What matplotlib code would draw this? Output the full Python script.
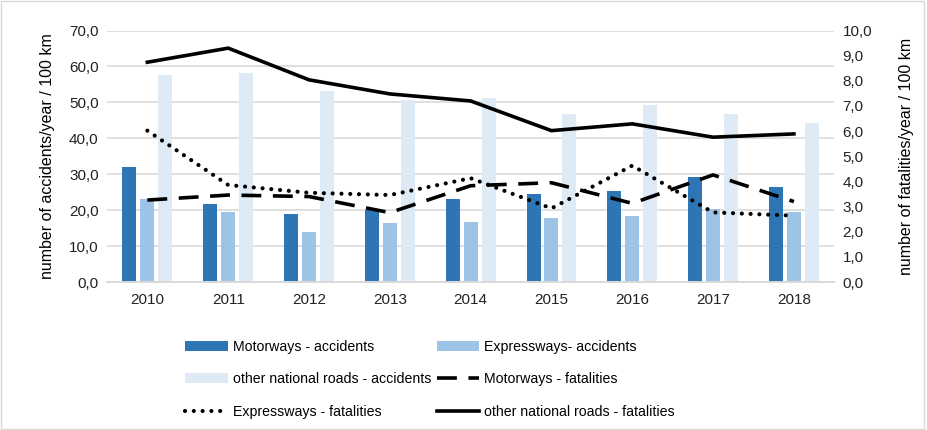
import matplotlib
matplotlib.use("Agg")
import matplotlib.pyplot as plt
import numpy as np
from matplotlib.ticker import FuncFormatter, MultipleLocator
from matplotlib.patches import Rectangle

years = ["2010", "2011", "2012", "2013", "2014", "2015", "2016", "2017", "2018"]
motorways_acc = [32.0, 21.8, 18.9, 20.0, 23.1, 24.6, 25.3, 29.3, 26.5]
expressways_acc = [23.1, 19.4, 13.9, 16.5, 16.8, 17.8, 18.4, 20.3, 19.6]
other_acc = [57.7, 58.3, 53.3, 50.7, 51.3, 46.9, 49.3, 46.9, 44.3]
motorways_fat = [3.26, 3.46, 3.40, 2.76, 3.83, 3.95, 3.13, 4.26, 3.20]
expressways_fat = [6.02, 3.86, 3.55, 3.46, 4.13, 2.93, 4.63, 2.77, 2.64]
other_fat = [8.74, 9.30, 8.04, 7.48, 7.20, 6.02, 6.29, 5.76, 5.89]

plt.rcParams['font.family'] = ['Liberation Sans', 'DejaVu Sans']

fig = plt.figure(figsize=(9.27, 4.30), dpi=100)
ax = fig.add_axes([0.1154, 0.344, 0.7846, 0.585])
ax2 = ax.twinx()

x = np.arange(len(years))
w = 0.173
off = 0.222
c1, c2, c3 = "#2e75b6", "#9dc3e6", "#deebf7"
b1 = ax.bar(x - off, motorways_acc, w, color=c1, label="Motorways - accidents", zorder=2)
b2 = ax.bar(x, expressways_acc, w, color=c2, label="Expressways- accidents", zorder=2)
b3 = ax.bar(x + off, other_acc, w, color=c3, label="other national roads - accidents", zorder=2)

l1, = ax2.plot(x, motorways_fat, color="black", lw=2.6, dashes=(5.5, 3.2),
               label="Motorways - fatalities")
l2, = ax2.plot(x, expressways_fat, color="black", lw=3.0, dashes=(0.01, 2.1),
               dash_capstyle="round", label="Expressways - fatalities")
l3, = ax2.plot(x, other_fat, color="black", lw=2.6, label="other national roads - fatalities",
               solid_joinstyle="miter")

ax.set_xlim(-0.5, len(years) - 0.5)
ax.set_ylim(0, 70)
ax2.set_ylim(0, 10)
ax.yaxis.set_major_locator(MultipleLocator(10))
ax2.yaxis.set_major_locator(MultipleLocator(1))
fmt = FuncFormatter(lambda v, p: f"{v:.1f}".replace(".", ","))
ax.yaxis.set_major_formatter(fmt)
ax2.yaxis.set_major_formatter(fmt)
ax.set_xticks(x)
ax.set_xticklabels(years)

ax.grid(axis="y", color="#d9d9d9", lw=1.2, zorder=0)
ax.set_axisbelow(True)
for a in (ax, ax2):
    for s in ("top", "left", "right"):
        a.spines[s].set_visible(False)
    a.spines["bottom"].set_color("#d9d9d9")
    a.spines["bottom"].set_linewidth(1.2)
    a.tick_params(length=0, labelsize=11, colors="#222222")
ax.tick_params(axis="x", pad=8)
ax.tick_params(axis="y", pad=6)
ax2.tick_params(axis="y", pad=6)

ax.set_ylabel("number of accidents/year / 100 km", fontsize=11.5, labelpad=10)
ax2.set_ylabel("number of fatalities/year / 100 km", fontsize=11.5, labelpad=19)

handles = [b1, b3, l2, b2, l1, l3]
labels = [h.get_label() for h in handles]
fig.legend(handles, labels, ncol=2, loc="upper left", bbox_to_anchor=(0.2, 0.21),
           frameon=False, fontsize=10.2, handlelength=3.0, handletextpad=0.35,
           columnspacing=0.4, labelspacing=1.3, borderaxespad=0, borderpad=0)

fig.patches.append(Rectangle((0.001, 0.002), 0.996, 0.995, transform=fig.transFigure,
                             fill=False, edgecolor="#d9d9d9", lw=1))

fig.savefig("out.png", dpi=100)
